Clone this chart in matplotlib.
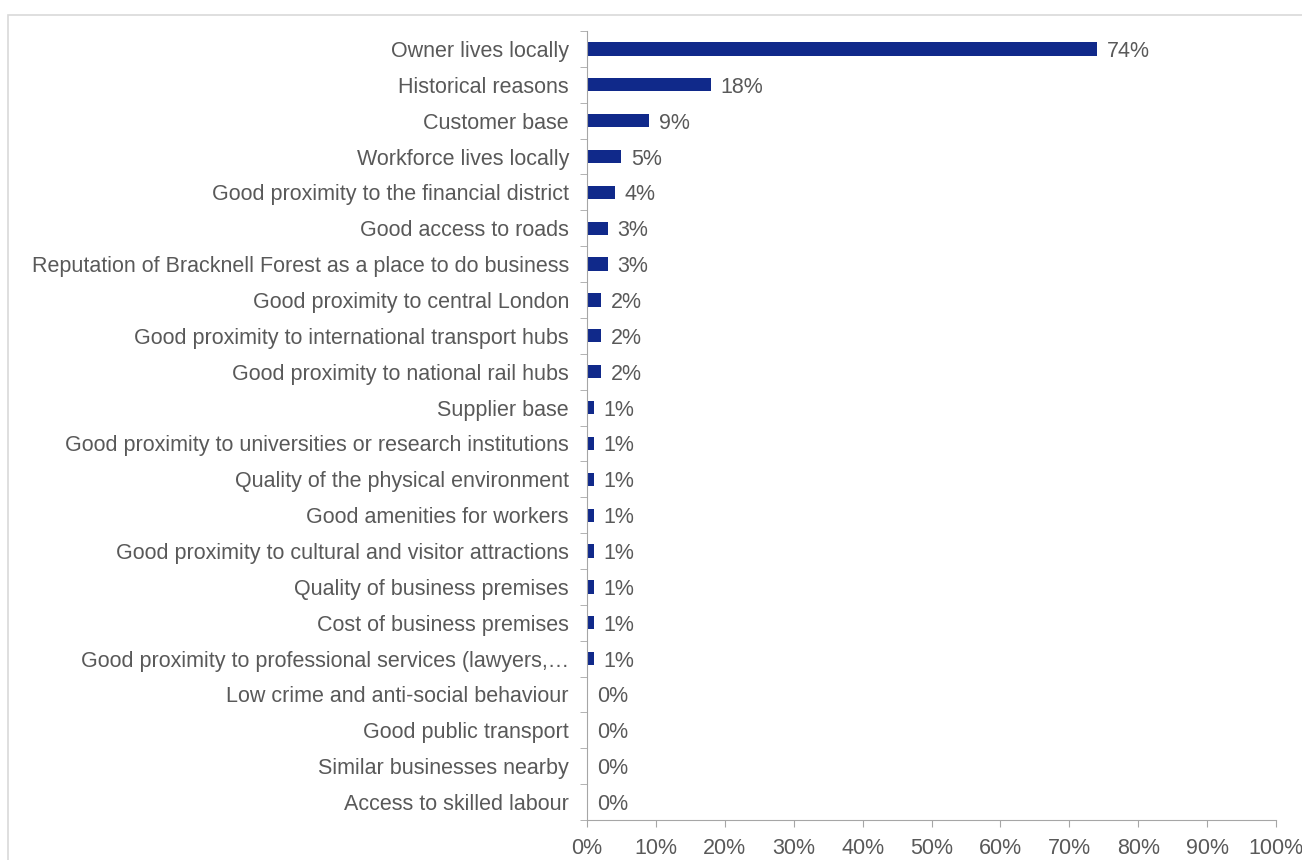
import matplotlib
matplotlib.use("Agg")
from matplotlib import pyplot as plt
from matplotlib.patches import Rectangle
import numpy as np

plt.rcParams['font.family'] = ['Liberation Sans', 'DejaVu Sans']

# reasons, top to bottom
categories = [
    "Owner lives locally",
    "Historical reasons",
    "Customer base",
    "Workforce lives locally",
    "Good proximity to the financial district",
    "Good access to roads",
    "Reputation of Bracknell Forest as a place to do business",
    "Good proximity to central London",
    "Good proximity to international transport hubs",
    "Good proximity to national rail hubs",
    "Supplier base",
    "Good proximity to universities or research institutions",
    "Quality of the physical environment",
    "Good amenities for workers",
    "Good proximity to cultural and visitor attractions",
    "Quality of business premises",
    "Cost of business premises",
    "Good proximity to professional services (lawyers,\u2026",
    "Low crime and anti-social behaviour",
    "Good public transport",
    "Similar businesses nearby",
    "Access to skilled labour",
]
values = [74, 18, 9, 5, 4, 3, 3, 2, 2, 2, 1, 1, 1, 1, 1, 1, 1, 1, 0, 0, 0, 0]
x_ticks = list(range(0, 101, 10))

grey = '#595959'
axis_grey = '#A6A6A6'
bar_col = '#10298A'
fs = 15.5

fig = plt.figure(figsize=(13.02, 8.6), dpi=100)
fig.patches.append(Rectangle((8 / 1302, -0.1), 1.2, 1 - 15 / 860 + 0.1,
                             transform=fig.transFigure, fill=False,
                             edgecolor='#D9D9D9', linewidth=1.2))

ax = fig.add_axes([587 / 1302, 1 - 820 / 860, (1276 - 587) / 1302, (820 - 31) / 860])

y = np.arange(len(categories))
ax.barh(y, values, height=0.37, color=bar_col)

for yi, v in zip(y, values):
    ax.text(v + 1.4, yi, f"{v}%", va='center_baseline', ha='left', fontsize=fs, color=grey)

ax.set_xlim(0, 100)
ax.set_ylim(len(categories) - 0.5, -0.5)
ax.set_xticks(x_ticks)
ax.set_xticklabels([f"{t}%" for t in x_ticks], fontsize=fs, color=grey)
ax.set_yticks(y)
ax.set_yticklabels(categories, fontsize=fs, color=grey)
ax.tick_params(axis='y', length=0, pad=13)
ax.set_yticks(np.arange(-0.5, len(categories), 1), minor=True)
ax.tick_params(axis='y', which='minor', length=5, color=axis_grey, direction='out')
ax.tick_params(axis='x', length=5, color=axis_grey, pad=8)

for s in ['top', 'right']:
    ax.spines[s].set_visible(False)
for s in ['left', 'bottom']:
    ax.spines[s].set_color(axis_grey)

fig.savefig('out.png', dpi=100)
